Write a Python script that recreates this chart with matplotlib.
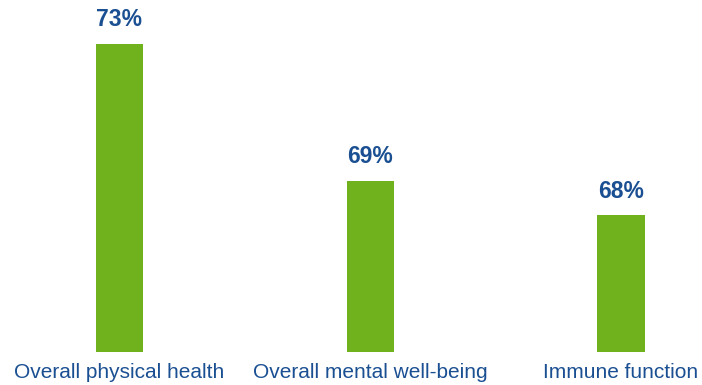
import matplotlib
matplotlib.use('Agg')
import matplotlib.pyplot as plt

plt.rcParams['font.family'] = ['Liberation Sans', 'DejaVu Sans']

categories = ['Overall physical health', 'Overall mental well-being', 'Immune function']
values = [73, 69, 68]
labels = ['73%', '69%', '68%']

bar_color = '#70b21e'
text_color = '#1a4f92'

fig = plt.figure(figsize=(7.02, 3.85), dpi=100)
ax = fig.add_axes([0, 33 / 385, 1, 352 / 385])

x = range(len(categories))
bars = ax.bar(x, [v - 64 for v in values], bottom=64, width=0.1875, color=bar_color)

for b, lab in zip(bars, labels):
    ax.annotate(lab, (b.get_x() + b.get_width() / 2, b.get_y() + b.get_height()),
                xytext=(0, 9), textcoords='offset points', ha='center', va='bottom',
                fontsize=16.5, fontweight='bold', color=text_color)

ax.set_xlim(-119.5 / 250.75, (702 - 119.5) / 250.75)
ax.set_ylim(64, 64 + 352 / 34.25)
ax.set_xticks(list(x))
ax.set_xticklabels(categories, fontsize=15, color=text_color)
ax.tick_params(axis='x', length=0, pad=8)
ax.set_yticks([])
for s in ax.spines.values():
    s.set_visible(False)

fig.savefig('out.png', dpi=100)
